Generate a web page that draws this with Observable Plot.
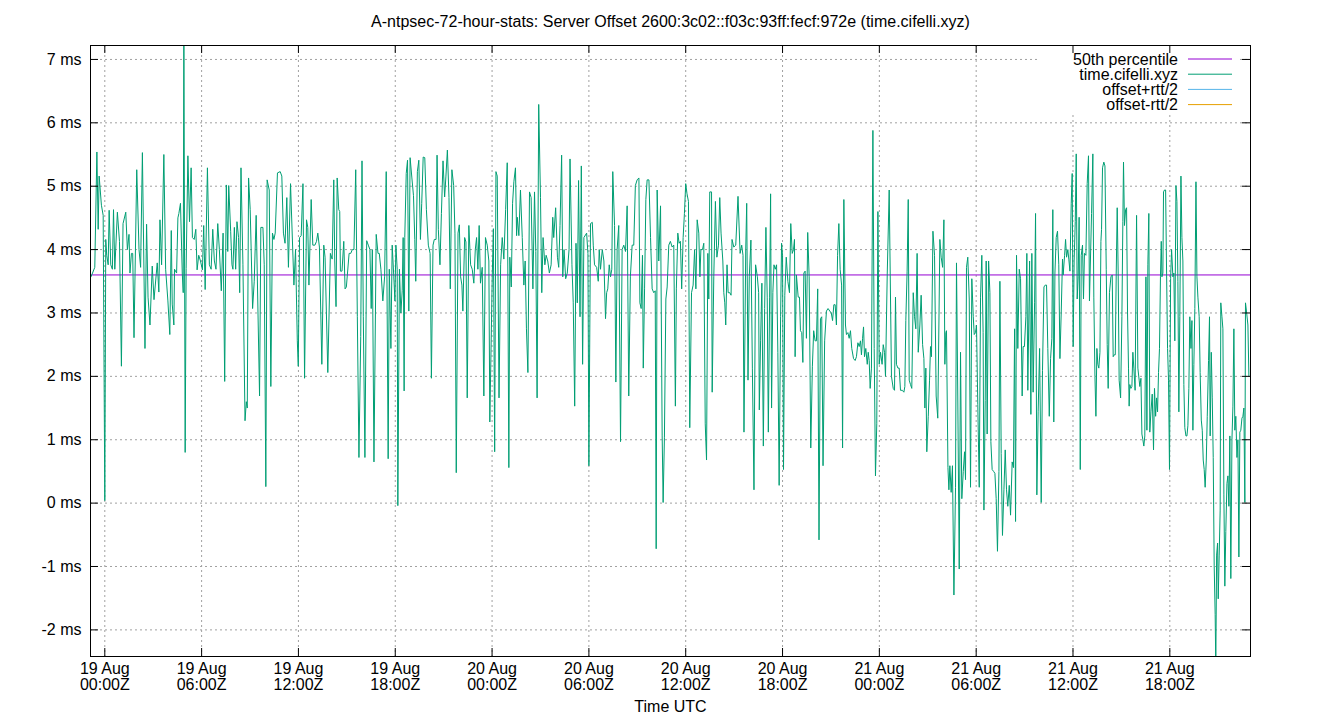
<!DOCTYPE html>
<html>
<head>
<meta charset="utf-8">
<script src="https://cdn.jsdelivr.net/npm/d3@7"></script>
<script src="https://cdn.jsdelivr.net/npm/@observablehq/plot@0.6"></script>
<style>
  body { margin: 0; background: #fff; }
  #chart svg { display: block; font-family: "Liberation Sans", Arial, sans-serif; }
</style>
</head>
<body>
<div id="chart"></div>
<script>
// ---------- data ----------
const chartTitle = "A-ntpsec-72-hour-stats: Server Offset 2600:3c02::f03c:93ff:fecf:972e (time.cifelli.xyz)";
const xAxisTitle = "Time UTC";
const baseDayUTC = Date.UTC(2025, 7, 19); // 19 Aug 00:00Z
const windowHours = [-0.886, 71.0];        // time span shown (hours from 19 Aug 00:00Z)
const offsetRange = [-2.42, 7.22];         // ms
const percentile50 = 3.60;                 // ms
const yTickValues = [-2, -1, 0, 1, 2, 3, 4, 5, 6, 7];
const xTickHours = [0, 6, 12, 18, 24, 30, 36, 42, 48, 54, 60, 66];
const xTickLabels = ["19 Aug\n00:00Z", "19 Aug\n06:00Z", "19 Aug\n12:00Z", "19 Aug\n18:00Z",
                     "20 Aug\n00:00Z", "20 Aug\n06:00Z", "20 Aug\n12:00Z", "20 Aug\n18:00Z",
                     "21 Aug\n00:00Z", "21 Aug\n06:00Z", "21 Aug\n12:00Z", "21 Aug\n18:00Z"];
const legendLabels = ["50th percentile", "time.cifelli.xyz", "offset+rtt/2", "offset-rtt/2"];
const legendColors = ["#9400d3", "#009e73", "#56b4e9", "#e69f00"];

// [hours since 19 Aug 00:00Z, offset ms]
const samplesA = [[-0.86,3.57],[-0.76,3.63],[-0.62,3.72],[-0.49,5.54],[-0.41,4.32],[-0.35,5.16],[-0.21,4.70],[-0.10,4.54],[0.00,0.04],[0.06,4.16],[0.12,3.91],[0.21,3.76],[0.27,4.62],[0.37,3.76],[0.47,3.69],[0.54,4.63],[0.62,3.69],[0.78,4.59],[0.91,4.13],[1.03,2.16],[1.13,4.41],[1.30,4.59],[1.40,4.00],[1.50,4.24],[1.56,3.63],[1.65,3.94],[1.73,3.94],[1.81,2.61],[1.98,5.26],[2.12,4.00],[2.22,3.72],[2.33,5.53],[2.49,2.44],[2.59,4.40],[2.68,3.25],[2.80,2.81],[2.94,3.74],[3.05,3.21],[3.25,3.79],[3.35,3.33],[3.42,4.47],[3.52,3.76],[3.66,5.50],[3.77,3.69],[3.91,3.19],[4.03,2.66],[4.12,4.30],[4.18,3.14],[4.28,2.81],[4.32,3.69],[4.45,3.63],[4.53,4.50],[4.59,4.57],[4.69,4.73],[4.80,3.63],[4.86,3.32],[4.90,7.60],[4.98,0.80],[5.04,3.70],[5.15,5.48],[5.25,4.44],[5.35,5.29],[5.43,4.19],[5.54,4.16],[5.64,4.32],[5.72,3.68],[5.82,3.91],[5.93,3.82],[6.05,3.68],[6.13,4.38],[6.22,3.37],[6.36,5.29],[6.48,3.76],[6.59,3.69],[6.69,4.32],[6.79,3.82],[6.89,3.69],[7.00,4.41],[7.10,4.00],[7.22,3.35],[7.33,4.26],[7.43,1.92],[7.53,5.02],[7.62,3.97],[7.68,5.01],[7.80,4.29],[7.88,3.76],[7.94,3.69],[8.03,4.35],[8.11,3.69],[8.19,4.44],[8.29,4.19],[8.36,3.32],[8.44,5.29],[8.56,3.76],[8.69,1.30],[8.77,1.60],[8.83,1.50],[8.91,5.13],[9.01,4.63],[9.16,3.07],[9.26,3.50],[9.38,4.54],[9.59,1.69],[9.67,4.35],[9.80,4.35],[9.88,3.76],[9.98,0.26],[10.06,5.10],[10.19,4.94],[10.29,1.84],[10.39,4.26],[10.48,4.16],[10.56,4.26],[10.70,5.21],[10.87,5.23],[10.97,5.16],[11.07,4.26],[11.17,4.10],[11.28,4.82],[11.38,3.72]];
const samplesB = [[11.51,5.04],[11.72,3.44],[11.82,4.00],[11.93,2.56],[11.99,2.16],[12.07,4.19],[12.17,4.22],[12.28,5.04],[12.38,1.97],[12.50,4.47],[12.58,4.35],[12.65,3.44],[12.79,4.79],[12.89,4.07],[13.02,4.07],[13.12,4.13],[13.20,4.26],[13.30,4.04],[13.45,2.19],[13.57,4.07],[13.65,3.88],[13.82,2.06],[13.98,3.94],[14.09,3.85],[14.19,5.10],[14.25,3.82],[14.33,3.10],[14.40,5.13],[14.50,4.63],[14.56,4.60],[14.60,3.66],[14.70,3.66],[14.81,4.13],[14.89,3.38],[14.97,3.41],[15.14,3.94],[15.24,3.94],[15.34,4.00],[15.44,4.00],[15.55,5.26],[15.65,2.94],[15.75,0.72],[15.86,2.63],[15.94,5.40],[16.02,2.94],[16.12,0.72],[16.23,4.14],[16.33,4.07],[16.43,4.00],[16.51,3.07],[16.58,4.00],[16.68,0.65],[16.82,4.24],[16.93,3.94],[17.01,3.94],[17.11,3.69],[17.23,3.19],[17.34,3.57],[17.44,5.23],[17.56,0.70],[17.63,3.69],[17.73,2.44],[17.81,4.07],[17.91,3.57],[17.98,3.19],[18.04,4.07],[18.12,3.69],[18.16,-0.04],[18.26,3.69],[18.35,3.00],[18.43,3.35],[18.49,4.19],[18.55,1.77],[18.59,4.19],[18.68,5.20],[18.76,5.41],[18.84,3.03],[18.92,5.45],[19.03,5.13],[19.13,4.85],[19.21,4.16],[19.27,3.50],[19.37,5.23],[19.46,5.41],[19.56,4.16],[19.64,4.73],[19.73,5.46],[19.83,5.45],[19.93,4.63],[20.05,4.07],[20.16,3.94],[20.24,1.97],[20.34,4.07],[20.42,4.16],[20.53,4.16],[20.59,5.49],[20.67,4.32],[20.77,3.76],[20.86,4.57],[20.96,5.40],[21.06,4.83],[21.14,5.16],[21.23,5.57],[21.33,4.82],[21.41,3.38],[21.51,5.26],[21.62,5.01],[21.70,4.26],[21.78,0.48],[21.89,4.26],[21.97,4.39],[22.05,3.57],[22.13,3.44],[22.19,3.03],[22.30,4.19],[22.38,4.12],[22.46,1.66],[22.56,4.38],[22.67,3.76],[22.77,3.69],[22.87,3.47],[22.96,4.00],[23.04,4.19],[23.12,3.69],[23.20,4.38],[23.28,3.47],[23.39,3.72],[23.49,1.69],[23.59,4.19],[23.70,4.07],[23.80,3.82],[23.86,1.28]];
const samplesC = [[24.01,3.57],[24.08,4.33],[24.16,0.81],[24.24,5.23],[24.32,5.16],[24.43,1.66],[24.53,3.76],[24.63,4.19],[24.73,3.85],[24.84,4.63],[24.94,5.37],[25.04,0.56],[25.10,3.88],[25.19,3.41],[25.27,4.73],[25.35,5.07],[25.45,5.29],[25.52,4.22],[25.56,4.51],[25.66,4.22],[25.76,4.94],[25.87,4.19],[25.97,3.44],[26.05,3.82],[26.13,2.75],[26.22,2.06],[26.32,4.91],[26.42,4.82],[26.53,3.38],[26.63,4.91],[26.71,3.97],[26.79,1.66],[26.89,6.29],[27.00,4.82],[27.08,3.32],[27.16,4.19],[27.27,3.76],[27.35,3.91],[27.45,3.82],[27.55,3.63],[27.66,3.76],[27.76,4.51],[27.82,4.19],[27.94,4.66],[28.05,3.88],[28.13,3.72],[28.21,4.38],[28.31,5.49],[28.38,3.57],[28.46,4.00],[28.56,3.54],[28.66,3.63],[28.77,4.00],[28.83,5.43],[28.95,3.76],[29.03,3.16],[29.12,1.53],[29.20,4.10],[29.28,3.16],[29.36,5.09],[29.45,2.94],[29.53,5.32],[29.61,2.19],[29.69,4.19],[29.86,4.26],[29.94,3.94],[30.00,0.59],[30.10,4.41],[30.21,4.43],[30.27,4.07],[30.35,3.76],[30.48,3.72],[30.58,3.50],[30.64,4.00],[30.72,3.69],[30.83,4.00],[30.93,3.82],[31.03,2.91],[31.10,3.32],[31.17,3.38],[31.26,3.76],[31.34,3.57],[31.42,3.69],[31.48,5.23],[31.59,4.38],[31.67,1.91],[31.75,4.00],[31.85,4.38],[31.96,0.97],[32.06,4.00],[32.16,4.07],[32.27,3.97],[32.37,4.69],[32.47,1.69],[32.57,3.57],[32.68,4.07],[32.78,4.07],[32.88,5.01],[32.99,5.10],[33.10,5.13],[33.16,3.16],[33.24,3.07],[33.32,3.91],[33.37,2.13],[33.45,3.38],[33.53,4.79],[33.61,5.10],[33.72,5.10],[33.82,4.19],[33.92,3.38],[34.02,3.32],[34.11,3.35],[34.17,-0.72],[34.23,4.94],[34.33,3.82],[34.44,4.69],[34.54,1.06],[34.60,0.01],[34.68,1.03],[34.77,3.22],[34.85,3.41],[34.95,4.07],[35.05,4.13],[35.16,4.04],[35.26,4.07],[35.36,1.53],[35.42,3.38],[35.51,4.26],[35.59,4.10],[35.67,4.13],[35.75,3.38],[35.84,4.19],[35.92,4.57],[36.00,5.04],[36.08,4.88],[36.17,4.76],[36.25,1.19]];
const samplesD = [[36.36,3.32],[36.46,3.44],[36.55,4.00],[36.63,3.38],[36.71,4.47],[36.81,4.26],[36.88,3.57],[36.94,4.00],[37.04,4.00],[37.12,4.10],[37.21,1.25],[37.29,0.68],[37.37,3.94],[37.43,3.22],[37.49,4.91],[37.60,4.91],[37.64,1.75],[37.74,3.57],[37.84,4.76],[37.93,3.88],[38.03,4.07],[38.11,4.82],[38.19,4.26],[38.30,3.82],[38.36,3.32],[38.42,3.16],[38.48,2.81],[38.56,3.76],[38.63,3.32],[38.73,3.32],[38.81,3.28],[38.87,4.16],[38.98,4.04],[39.10,4.07],[39.24,4.84],[39.37,3.94],[39.47,4.07],[39.55,3.91],[39.61,1.12],[39.72,4.00],[39.78,4.73],[39.86,1.94],[39.94,3.57],[40.04,4.15],[40.13,2.13],[40.23,0.21],[40.33,3.76],[40.44,3.57],[40.52,3.32],[40.56,1.47],[40.64,2.56],[40.72,3.47],[40.81,0.90],[40.89,3.07],[40.97,4.35],[41.05,3.25],[41.12,1.12],[41.20,3.25],[41.26,4.88],[41.32,1.50],[41.40,3.32],[41.47,3.76],[41.55,3.69],[41.63,3.76],[41.71,2.38],[41.79,0.28],[41.88,2.94],[41.94,4.10],[42.00,3.91],[42.06,0.53],[42.14,3.28],[42.23,3.88],[42.33,3.50],[42.43,3.32],[42.51,4.41],[42.60,3.94],[42.68,4.00],[42.74,4.16],[42.78,2.31],[42.86,3.60],[42.97,3.25],[43.05,3.25],[43.11,2.72],[43.19,2.69],[43.26,2.22],[43.32,3.63],[43.40,3.66],[43.48,2.60],[43.56,4.27],[43.65,3.57],[43.75,0.87],[43.85,2.16],[43.93,2.72],[44.02,2.56],[44.10,2.56],[44.18,3.38],[44.26,-0.58],[44.35,2.91],[44.43,2.94],[44.51,0.59],[44.61,2.56],[44.72,3.03],[44.82,3.07],[44.93,3.03],[45.02,3.00],[45.10,2.88],[45.18,3.13],[45.26,3.13],[45.34,2.81],[45.41,3.91],[45.49,4.41],[45.57,3.69],[45.66,3.44],[45.72,0.87],[45.80,4.79],[45.90,2.81],[45.96,2.66],[46.05,2.69],[46.13,2.60],[46.21,2.72],[46.29,2.44],[46.40,2.28],[46.50,2.25],[46.58,2.31],[46.67,2.53],[46.75,2.47],[46.83,2.56],[46.89,2.34],[46.96,2.60],[47.02,2.78],[47.08,2.31],[47.16,2.44],[47.25,2.19],[47.31,2.38],[47.37,2.25],[47.43,1.81],[47.51,2.13],[47.60,5.88],[47.68,2.44],[47.76,0.43],[47.84,1.25],[47.91,4.60],[47.99,2.19],[48.07,2.38],[48.17,2.19],[48.24,2.50],[48.32,2.38],[48.38,2.00],[48.49,3.63],[48.61,4.94]];
const samplesE = [[48.75,2.00],[48.86,1.81],[48.94,1.78],[49.00,3.25],[49.06,2.19],[49.15,2.13],[49.23,2.13],[49.31,1.78],[49.42,1.78],[49.52,1.75],[49.58,1.84],[49.64,2.88],[49.72,3.66],[49.79,4.79],[49.85,1.94],[49.93,1.87],[50.01,1.81],[50.10,3.32],[50.18,2.94],[50.26,2.75],[50.34,3.94],[50.41,2.38],[50.51,2.81],[50.59,3.28],[50.68,2.50],[50.76,2.28],[50.82,1.50],[50.88,2.13],[50.94,0.81],[51.03,1.37],[51.11,1.94],[51.17,2.47],[51.23,2.31],[51.32,4.29],[51.42,3.91],[51.52,1.69],[51.62,1.34],[51.69,2.81],[51.75,4.16],[51.83,3.88],[51.92,3.72],[52.00,4.47],[52.06,2.19],[52.12,2.69],[52.16,2.72],[52.25,0.56],[52.31,0.21],[52.37,0.59],[52.45,0.17],[52.53,0.59],[52.62,-1.45],[52.72,0.25],[52.78,3.79],[52.86,1.69],[52.95,-1.04],[53.03,2.38],[53.11,0.07],[53.20,0.50],[53.28,0.81],[53.34,0.37],[53.40,3.72],[53.48,3.88],[53.57,3.22],[53.65,0.25],[53.73,3.54],[53.82,2.94],[53.88,2.66],[53.96,2.69],[54.02,2.81],[54.10,1.56],[54.19,0.25],[54.27,3.25],[54.35,3.91],[54.43,2.69],[54.48,-0.11],[54.56,1.62],[54.62,3.82],[54.68,1.09],[54.77,3.82],[54.85,3.32],[54.91,0.97],[54.99,0.53],[55.08,0.50],[55.16,0.47],[55.24,0.07],[55.32,-0.76],[55.41,0.50],[55.47,3.50],[55.55,0.78],[55.63,-0.51],[55.72,0.21],[55.80,0.84],[55.88,0.21],[55.96,-0.05],[56.05,0.28],[56.13,-0.19],[56.23,0.65],[56.31,0.56],[56.38,2.75],[56.44,-0.29],[56.50,3.91],[56.58,2.44],[56.67,3.69],[56.75,3.54],[56.85,1.69],[56.91,2.47],[56.99,2.47],[57.08,2.94],[57.14,3.94],[57.20,1.78],[57.31,3.82],[57.39,1.40],[57.45,3.94],[57.53,1.75],[57.62,3.16],[57.68,4.57],[57.76,0.13],[57.84,1.44],[57.93,2.44],[58.03,0.01],[58.11,2.09],[58.20,3.41],[58.28,3.44],[58.36,3.44],[58.44,2.44],[58.53,1.37],[58.61,2.28],[58.69,2.60],[58.75,4.63],[58.81,1.28],[58.88,3.63],[58.96,4.19],[59.04,4.29],[59.12,3.76],[59.19,2.28],[59.27,3.00],[59.35,3.85],[59.39,3.60],[59.48,3.91],[59.54,4.16],[59.60,3.88],[59.68,4.00],[59.74,3.85],[59.81,3.66],[59.89,4.73],[59.95,5.20],[60.01,2.47],[60.07,3.82],[60.14,4.44],[60.20,5.51],[60.26,3.22],[60.32,3.57],[60.38,4.51],[60.45,0.53],[60.51,3.91],[60.59,4.07],[60.65,3.22],[60.71,3.94],[60.80,3.91],[60.88,5.04],[60.96,5.48],[61.02,3.19]];
const samplesF = [[61.15,4.57],[61.23,5.51],[61.29,3.25],[61.36,2.00],[61.42,1.37],[61.48,2.44],[61.54,2.19],[61.60,2.13],[61.67,2.38],[61.73,4.13],[61.77,4.32],[61.83,5.29],[61.91,5.38],[61.98,5.32],[62.06,3.69],[62.12,2.50],[62.18,1.81],[62.26,3.32],[62.35,3.57],[62.43,3.60],[62.49,2.31],[62.55,2.34],[62.62,2.34],[62.68,3.63],[62.74,4.66],[62.80,3.63],[62.86,1.94],[62.95,1.66],[63.03,2.94],[63.09,4.44],[63.13,5.38],[63.19,4.38],[63.26,4.63],[63.32,4.66],[63.38,3.00],[63.44,2.13],[63.48,1.53],[63.52,1.87],[63.59,1.81],[63.65,1.84],[63.71,2.38],[63.77,2.13],[63.85,1.78],[63.94,4.54],[64.02,2.13],[64.10,1.94],[64.14,1.84],[64.21,1.97],[64.27,1.09],[64.33,1.00],[64.39,0.90],[64.45,1.06],[64.52,3.57],[64.58,1.15],[64.64,3.76],[64.70,4.57],[64.76,1.12],[64.83,1.44],[64.91,1.72],[64.99,0.84],[65.05,1.81],[65.12,1.37],[65.18,1.66],[65.24,1.44],[65.30,2.06],[65.36,2.44],[65.42,3.57],[65.47,4.13],[65.51,3.57],[65.57,3.63],[65.61,4.91],[65.67,4.94],[65.74,4.94],[65.80,3.63],[65.86,2.44],[65.92,1.94],[65.98,0.53],[66.05,3.54],[66.11,4.00],[66.19,3.57],[66.25,3.63],[66.31,2.56],[66.38,5.01],[66.44,4.76],[66.50,3.50],[66.56,1.44],[66.62,2.94],[66.69,5.16],[66.75,4.19],[66.81,3.82],[66.87,1.87],[66.93,1.19],[67.00,1.06],[67.06,1.06],[67.12,1.22],[67.18,1.81],[67.24,2.94],[67.31,2.44],[67.37,2.88],[67.43,1.15],[67.49,2.19],[67.55,3.07],[67.62,5.07],[67.68,3.57],[67.74,3.25],[67.82,2.94],[67.88,2.06],[67.95,1.31],[68.01,1.15],[68.07,0.68],[68.13,0.53],[68.19,0.25],[68.26,0.68],[68.32,1.37],[68.40,2.25],[68.46,2.94],[68.50,1.06],[68.57,2.38],[68.63,1.66],[68.69,0.72],[68.75,-0.99],[68.81,-1.76],[68.85,-2.60],[68.90,-0.82],[68.96,-0.63],[69.00,-1.51],[69.06,-0.82],[69.12,-0.11],[69.16,3.16],[69.23,2.94],[69.29,2.75],[69.35,0.13],[69.41,-1.31],[69.47,-0.45],[69.54,0.31],[69.60,0.43],[69.66,-0.05],[69.72,1.06],[69.78,-1.19],[69.85,1.00],[69.91,1.53],[69.97,2.75],[70.03,1.15],[70.09,1.37],[70.16,0.72],[70.22,1.00],[70.28,-0.85],[70.34,1.12],[70.40,1.15],[70.47,1.34],[70.53,1.37],[70.59,1.50],[70.65,0.01],[70.69,3.16],[70.75,3.03],[70.84,2.81],[70.90,2.00]];

// ---------- build ----------
const toDate = h => new Date(baseDayUTC + h * 3600e3);
const samples = [...samplesA, ...samplesB, ...samplesC, ...samplesD, ...samplesE, ...samplesF]
  .map(([h, v]) => ({time: toDate(h), offset: v}));
const xTicks = xTickHours.map(toDate);
const labelByTime = new Map(xTicks.map((d, i) => [+d, xTickLabels[i]]));

const W = 1340, H = 720, mL = 90, mR = 90, mT = 45, mB = 64;
const pw = W - mL - mR, ph = H - mT - mB;
const gridStyle = {stroke: "#a0a0a0", strokeOpacity: 1, strokeWidth: 1, strokeDasharray: "2,3"};

// legend background (opaque key box like gnuplot)
const legendBox = (index, scales, values, dims) => {
  const g = d3.create("svg:g");
  g.append("rect").attr("x", dims.width - dims.marginRight - 213).attr("y", dims.marginTop + 1)
    .attr("width", 203).attr("height", 69).attr("fill", "white");
  return g.node();
};
const legendItems = (index, scales, values, dims) => {
  const g = d3.create("svg:g").attr("font-size", 16).attr("font-family", "Liberation Sans, Arial, sans-serif");
  const xr = dims.width - dims.marginRight;
  legendLabels.forEach((lab, i) => {
    const cy = dims.marginTop + 14 + i * 15.2;
    g.append("text").attr("x", xr - 72).attr("y", cy).attr("dy", "0.35em")
      .attr("text-anchor", "end").attr("fill", "black").text(lab);
    g.append("line").attr("x1", xr - 62).attr("x2", xr - 18).attr("y1", cy).attr("y2", cy)
      .attr("stroke", legendColors[i]).attr("stroke-width", 1);
  });
  return g.node();
};

const chart = Plot.plot({
  width: W, height: H,
  marginLeft: mL, marginRight: mR, marginTop: mT, marginBottom: mB,
  style: {fontFamily: "Liberation Sans, Arial, sans-serif", fontSize: "16px", background: "white", color: "black", overflow: "visible"},
  x: {type: "utc", domain: windowHours.map(toDate)},
  y: {domain: offsetRange},
  marks: [
    Plot.gridX(xTicks, gridStyle),
    Plot.gridY(yTickValues, gridStyle),
    legendBox,
    Plot.ruleY([percentile50], {stroke: legendColors[0], strokeWidth: 1}),
    Plot.line(samples, {x: "time", y: "offset", stroke: legendColors[1], strokeWidth: 1, clip: "frame"}),
    Plot.frame({stroke: "black", strokeWidth: 1}),
    Plot.tickY(yTickValues, {y: d => d, insetRight: pw - 8, stroke: "black"}),
    Plot.tickY(yTickValues, {y: d => d, insetLeft: pw - 8, stroke: "black"}),
    Plot.tickX(xTicks, {x: d => d, insetTop: ph - 8, stroke: "black"}),
    Plot.tickX(xTicks, {x: d => d, insetBottom: ph - 8, stroke: "black"}),
    Plot.axisY(yTickValues, {tickSize: 0, tickPadding: 9, tickFormat: d => `${d} ms`, label: null, fontSize: 16}),
    Plot.axisX(xTicks, {tickSize: 0, tickPadding: 6, lineHeight: 1, tickFormat: d => labelByTime.get(+d), label: null, fontSize: 16}),
    Plot.text([chartTitle], {frameAnchor: "top", dy: -30, fontSize: 16, fill: "black"}),
    Plot.text([xAxisTitle], {frameAnchor: "bottom", dy: 55, fontSize: 16, fill: "black"}),
    legendItems
  ]
});
document.getElementById("chart").append(chart);
</script>
</body>
</html>
